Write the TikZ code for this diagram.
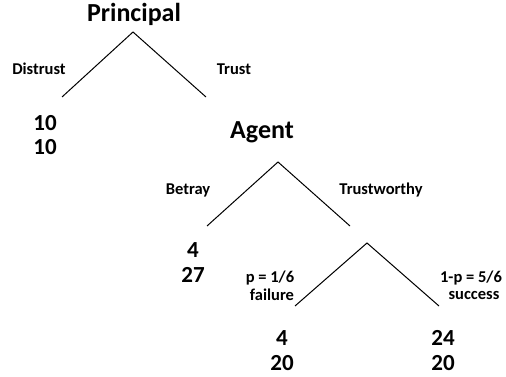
\documentclass[tikz,border=0pt]{standalone}
\usepackage{fontspec}
\setmainfont{Carlito}
\begin{document}
\begin{tikzpicture}[x=1pt,y=-1pt,
  player/.style={font=\bfseries\fontsize{26}{28}\selectfont, inner sep=0pt},
  pay/.style={font=\bfseries\fontsize{23}{24}\selectfont, inner sep=0pt, align=center},
  act/.style={font=\bfseries\fontsize{16.5}{17}\selectfont, inner sep=0pt, align=center},
  branch/.style={line width=1pt, black}]
\useasboundingbox (0,0) rectangle (506,377);
% Principal
\node[player] (P) at (134,14) {Principal};
\coordinate (pA) at (133,32);
\coordinate (pL) at (62,97);
\coordinate (pR) at (206,97);
\draw[branch] (pL) -- (pA) -- (pR);
\node[act] (dis) at (39,69) {Distrust};
\node[act] (tr) at (234,69) {Trust};
\node[pay] (p1a) at (45,123) {10};
\node[pay] (p1b) at (45,147) {10};
% Agent
\node[player] (A) at (262,132) {Agent};
\coordinate (aA) at (278,162);
\coordinate (aL) at (207,226);
\coordinate (aR) at (350,226);
\draw[branch] (aL) -- (aA) -- (aR);
\node[act] (bet) at (188,190) {Betray};
\node[act] (tw) at (381,190) {Trustworthy};
\node[pay] (p2a) at (193,250) {4};
\node[pay] (p2b) at (193,275) {27};
% Nature
\coordinate (nA) at (367,243);
\coordinate (nL) at (295,306);
\coordinate (nR) at (439,306);
\draw[branch] (nL) -- (nA) -- (nR);
\node[act] (fl1) at (270,278) {p = 1/6};
\node[act] (fl2) at (272,295) {failure};
\node[act] (sc1) at (471,278) {1-p = 5/6};
\node[act] (sc2) at (474,295) {success};
\node[pay] (p3a) at (282,338) {4};
\node[pay] (p3b) at (282,363) {20};
\node[pay] (p4a) at (443,338) {24};
\node[pay] (p4b) at (443,363) {20};
\end{tikzpicture}
\end{document}
